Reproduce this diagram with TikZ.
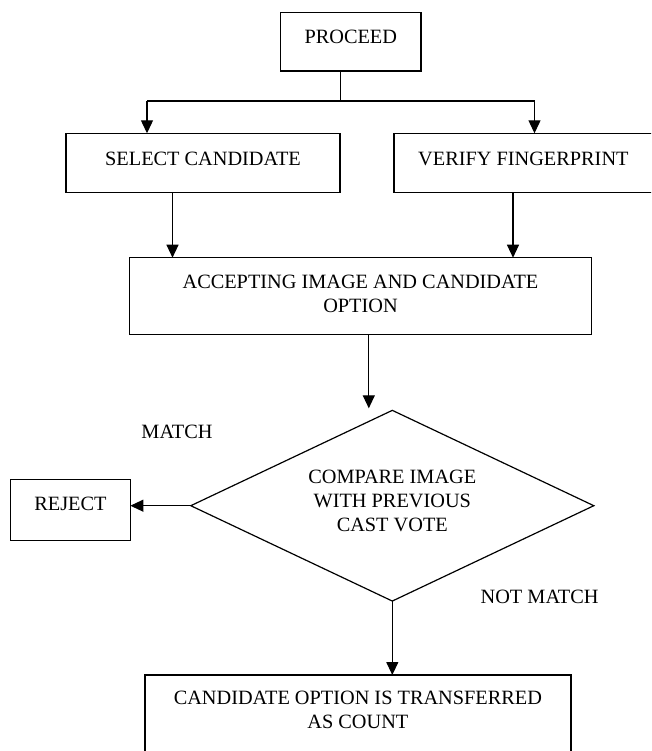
\documentclass[tikz,border=0pt]{standalone}
\usepackage{fontspec}
\setmainfont{Liberation Serif}
\usetikzlibrary{shapes.geometric,arrows.meta}

\begin{document}
\begin{tikzpicture}[x=1pt,y=-1pt,font=\fontsize{20.3}{24}\selectfont]
                \useasboundingbox (0,0) rectangle (651,751);
                \clip (0,0) rectangle (651,751);
                \begin{scope}[every node/.style={draw, line width=1.5pt, rectangle, inner sep=0pt, outer sep=0pt, align=center, text depth=9pt}]
                        \node[minimum width=140.3pt, minimum height=58.3pt, text depth=10pt] (proc) at (350.8,41.8) {PROCEED};
                        \node[minimum width=274pt, minimum height=59pt] (sel) at (203,162.8) {SELECT CANDIDATE};
                        \node[minimum width=259.3pt, minimum height=59pt] (ver) at (523.4,162.8) {VERIFY FINGERPRINT};
                        \node[minimum width=462.4pt, minimum height=76.6pt, text depth=4pt] (acc) at (360.5,296) {ACCEPTING IMAGE AND CANDIDATE\\OPTION};
                        \node[diamond, aspect=2.1, line width=1.2pt, minimum width=403pt, minimum height=190.7pt, text depth=10pt] (cmp) at (392.3,505.7) {COMPARE IMAGE\\WITH PREVIOUS\\CAST VOTE};
                        \node[minimum width=120pt, minimum height=61.4pt, text depth=13pt] (rej) at (70.4,510) {REJECT};
                        \node[minimum width=425.7pt, minimum height=106pt, text depth=36pt] (cnt) at (357.9,728) {CANDIDATE OPTION IS TRANSFERRED\\AS COUNT};
                \end{scope}
                \node (mat) at (177,431.7) {MATCH};
                \node (nmat) at (539.6,597.3) {NOT MATCH};
                \coordinate (split) at (340.3,101);
                \coordinate (sl) at (147,101);
                \coordinate (sr) at (534.5,101);
                \coordinate (c1) at (172.5,0);
                \coordinate (c2) at (513,0);
                \coordinate (tip) at (368.8,408.3);
                \begin{scope}[every path/.style={line width=1.2pt, >={Triangle[length=13pt,width=12pt]}}]
                        \draw (proc.south -| split) -- (split);
                        \draw (sl) -- (sr);
                        \draw[->] (sl) -- (sl |- sel.north);
                        \draw[->] (sr) -- (sr |- ver.north);
                        \draw[->] (c1 |- sel.south) -- (c1 |- acc.north);
                        \draw[->] (c2 |- ver.south) -- (c2 |- acc.north);
                        \draw[->] (tip |- acc.south) -- (tip);
                        \draw[->] (cmp.west) -- (cmp.west -| rej.east);
                        \draw[->] (cmp.south) -- (cmp.south |- cnt.north);
                \end{scope}
        \end{tikzpicture}
\end{document}
